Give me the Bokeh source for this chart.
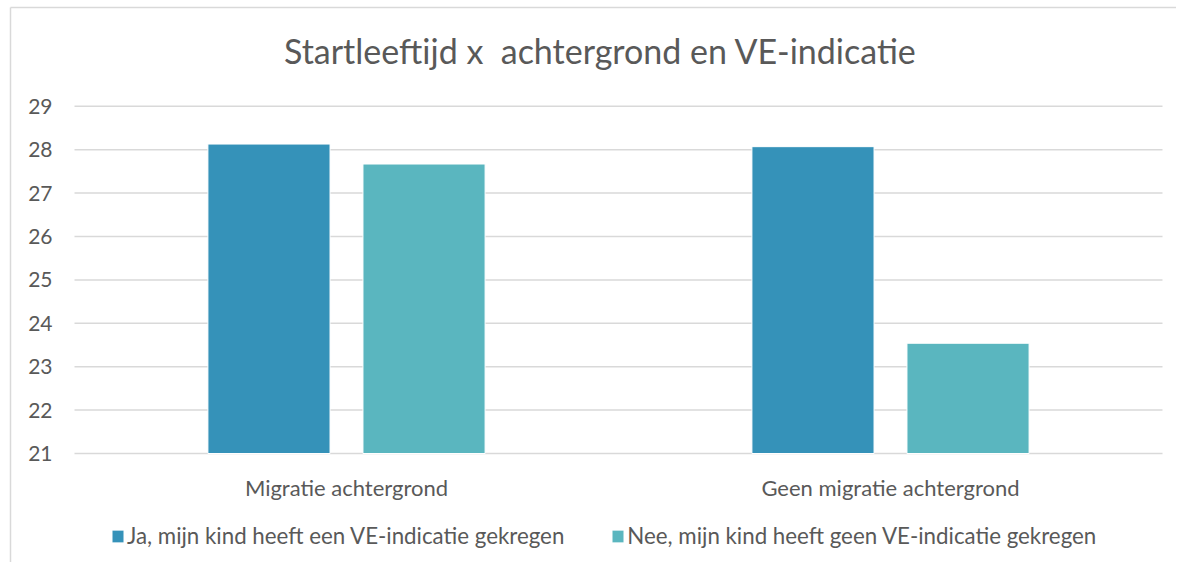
from bokeh.plotting import figure
from bokeh.models import ColumnDataSource, Range1d, Legend, LegendItem
from bokeh.core.properties import value
from bokeh.embed import file_html
from bokeh.resources import INLINE

categories = ["Migratie achtergrond", "Geen migratie achtergrond"]
series_names = ["Ja, mijn kind heeft een VE-indicatie gekregen",
                "Nee, mijn kind heeft geen VE-indicatie gekregen"]
ja_values = [28.13, 28.07]
nee_values = [27.67, 23.54]
y_ticks = [21, 22, 23, 24, 25, 26, 27, 28, 29]
title_text = "Startleeftijd x\u00a0 achtergrond en VE-indicatie"

FONT = "Lato"
TXT = "#595959"
GRID = "#d9d9d9"
C1 = "#3592B9"
C2 = "#5AB6BF"

W, H = 1176, 562
# layout geometry (pixels): plot area left, width of one category, baseline, px per unit
PL, CAT_PX, BASE_PY, UNIT_PX, Y0 = 74, 544, 453, 43.4, 21


def fx(px):
    return (px - PL) / CAT_PX


def fy(py):
    return Y0 + (BASE_PY - py) / UNIT_PX


p = figure(width=W, height=H, x_range=Range1d(fx(0), fx(W)), y_range=Range1d(fy(H), fy(0)),
           output_backend="svg", toolbar_location=None,
           x_axis_location=None, y_axis_location=None,
           min_border=0, min_border_left=0, min_border_right=0,
           min_border_top=0, min_border_bottom=0)
p.grid.visible = False
p.outline_line_color = None

centers = [i + 0.5 for i in range(len(categories))]
OFF, BW = 0.1425, 0.2245
src = ColumnDataSource(dict(
    cat=categories, c=centers,
    x_ja=[c - OFF for c in centers], x_nee=[c + OFF for c in centers],
    ja=ja_values, nee=nee_values))

# chart-area border (left and top)
p.segment(x0=[fx(10), fx(10)], y0=[fy(7), fy(7)], x1=[fx(10), fx(W)], y1=[fy(H), fy(7)],
          line_color=GRID, line_width=1.5)

# gridlines
p.segment(x0=[0] * len(y_ticks), x1=[len(categories)] * len(y_ticks), y0=y_ticks, y1=y_ticks,
          line_color=GRID, line_width=1.5)

r1 = p.vbar(x="x_ja", top="ja", bottom=Y0, width=BW, source=src,
            fill_color=C1, line_color="white", line_width=1)
r2 = p.vbar(x="x_nee", top="nee", bottom=Y0, width=BW, source=src,
            fill_color=C2, line_color="white", line_width=1)

# y tick labels
p.text(x=[fx(52)] * len(y_ticks), y=y_ticks, text=[str(t) for t in y_ticks],
       text_align="right", text_baseline="middle", text_font=value(FONT),
       text_font_size="21px", text_color=TXT)

# category labels
p.text(x="c", y=fy(487), text="cat", source=src, text_align="center",
       text_baseline="middle", text_font=value(FONT), text_font_size="22px", text_color=TXT)

# title
p.text(x=[fx(600)], y=[fy(50)], text=[title_text], text_align="center", text_baseline="middle",
       text_font=value(FONT), text_font_size="34px", text_color=TXT)

legend = Legend(items=[LegendItem(label=series_names[0], renderers=[r1]),
                       LegendItem(label=series_names[1], renderers=[r2])],
                orientation="horizontal", location=(110, 13),
                label_text_font=FONT, label_text_font_size="22.3px", label_text_color=TXT,
                glyph_width=15, glyph_height=16, spacing=46, label_standoff=2,
                border_line_color=None, background_fill_alpha=0, padding=0, margin=0)
p.add_layout(legend)

open("out.html", "w").write(file_html(p, INLINE))
